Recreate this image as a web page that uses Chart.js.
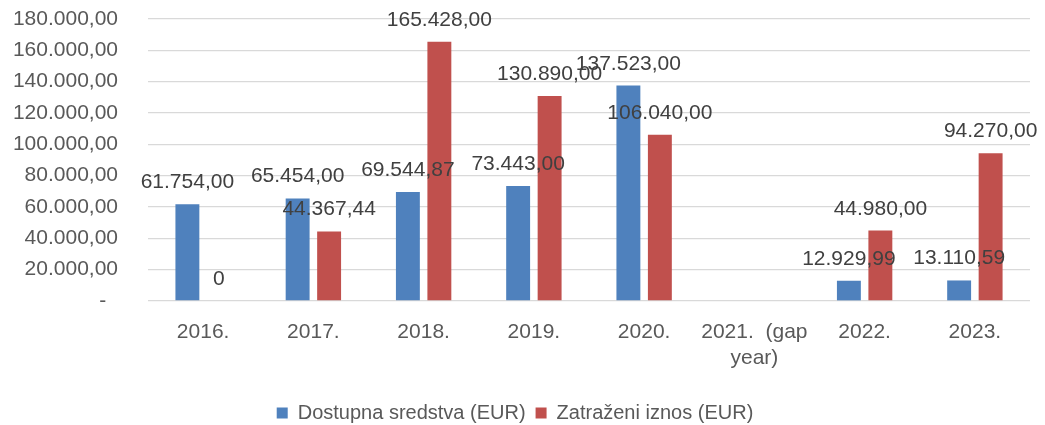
<!DOCTYPE html>
<html>
<head>
<meta charset="utf-8">
<script src="https://cdn.jsdelivr.net/npm/chart.js@4/dist/chart.umd.min.js"></script>
<style>
  html, body { margin: 0; padding: 0; background: #ffffff; }
  #wrap { width: 1045px; height: 425px; position: relative; }
</style>
</head>
<body>
<div id="wrap"><canvas id="c" width="1045" height="425"></canvas></div>
<script>
const categories = ['2016.', '2017.', '2018.', '2019.', '2020.', ['2021.  (gap', 'year)'], '2022.', '2023.'];
const seriesNames = ['Dostupna sredstva (EUR)', 'Zatraženi iznos (EUR)'];
const dostupna = [61754, 65454, 69544.87, 73443, 137523, null, 12929.99, 13110.59];
const zatrazeni = [0, 44367.44, 165428, 130890, 106040, null, 44980, 94270];
const yTickValues = [0, 20000, 40000, 60000, 80000, 100000, 120000, 140000, 160000, 180000];

const FONT = "'Liberation Sans', Arial, sans-serif";

function fmt(v) {
  const neg = v < 0;
  const parts = Math.abs(v).toFixed(2).split('.');
  const intPart = parts[0].replace(/\B(?=(\d{3})+(?!\d))/g, '.');
  return (neg ? '-' : '') + intPart + ',' + parts[1];
}

const dataLabels = {
  id: 'dataLabels',
  afterDatasetsDraw(chart) {
    const ctx = chart.ctx;
    ctx.save();
    ctx.font = '21px ' + FONT;
    ctx.fillStyle = '#404040';
    ctx.textAlign = 'center';
    ctx.textBaseline = 'alphabetic';
    chart.data.datasets.forEach((ds, di) => {
      const meta = chart.getDatasetMeta(di);
      meta.data.forEach((el, i) => {
        const v = ds.data[i];
        if (v === null || v === undefined) return;
        const txt = v === 0 ? '0' : fmt(v);
        ctx.fillText(txt, el.x, el.y - 16);
      });
    });
    ctx.restore();
  }
};

new Chart(document.getElementById('c'), {
  type: 'bar',
  data: {
    labels: categories,
    datasets: [
      { label: seriesNames[0], data: dostupna, backgroundColor: '#4F81BD', borderWidth: 0,
        categoryPercentage: 0.571, barPercentage: 0.76 },
      { label: seriesNames[1], data: zatrazeni, backgroundColor: '#C0504D', borderWidth: 0,
        categoryPercentage: 0.571, barPercentage: 0.76 }
    ]
  },
  options: {
    responsive: false,
    animation: false,
    devicePixelRatio: 1,
    layout: { padding: { left: 0, right: 15, top: 19, bottom: -8 } },
    plugins: {
      tooltip: { enabled: false },
      legend: {
        position: 'bottom',
        labels: {
          font: { family: FONT, size: 20 },
          color: '#595959',
          boxWidth: 11,
          boxHeight: 11,
          padding: 10
        }
      }
    },
    scales: {
      x: {
        grid: { display: false, drawTicks: false },
        border: { display: false },
        ticks: {
          font: { family: FONT, size: 21 },
          color: '#595959',
          padding: 19,
          maxRotation: 0,
          autoSkip: false
        },
        afterFit(scale) { scale.height = 92; }
      },
      y: {
        min: 0,
        max: 180000,
        afterBuildTicks(scale) { scale.ticks = yTickValues.map(v => ({ value: v })); },
        grid: { color: '#D9D9D9', lineWidth: 1.3, drawTicks: true, tickLength: 27, tickColor: 'rgba(0,0,0,0)' },
        border: { display: false },
        ticks: {
          font: { family: FONT, size: 21 },
          color: '#595959',
          padding: 3,
          callback: (v) => v === 0 ? '-  ' : fmt(v)
        },
        afterFit(scale) { scale.width = 148; }
      }
    }
  },
  plugins: [dataLabels]
});
</script>
</body>
</html>
